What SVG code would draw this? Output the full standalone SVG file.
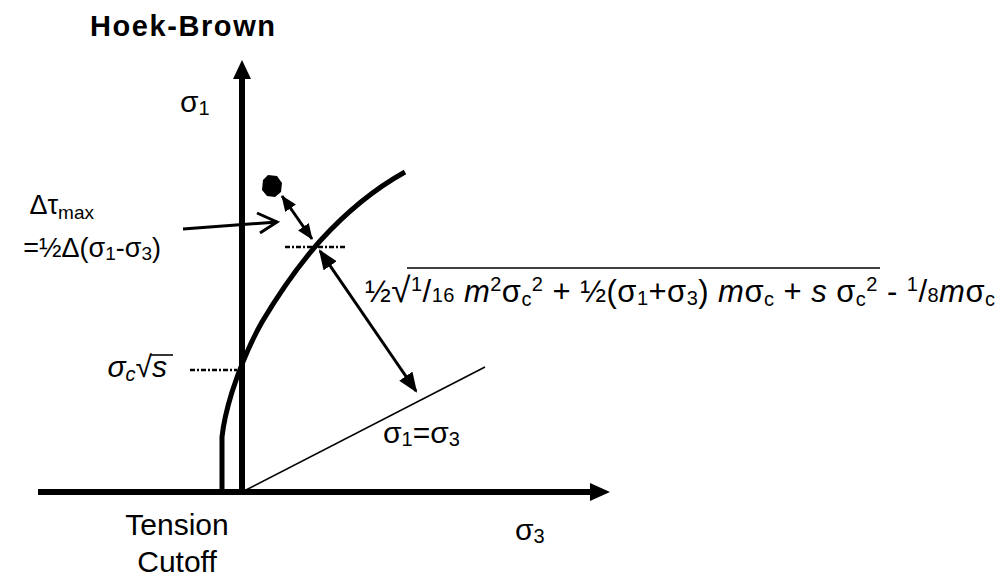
<svg xmlns="http://www.w3.org/2000/svg" width="1000" height="576" viewBox="0 0 1000 576">
<style>
text{font-family:"Liberation Sans",Arial,sans-serif;fill:#000}
.t{font-size:30px}
.s{font-size:20px}
.l{font-size:27px}
.ls{font-size:19px}
.i{font-style:italic}
.ax{stroke:#000;stroke-width:6;fill:none}
.thick{stroke:#000;stroke-width:5;fill:none;stroke-linejoin:round}
.med{stroke:#000;stroke-width:3;fill:none}
.thin{stroke:#000;stroke-width:1.6;fill:none}
.dash{stroke:#000;stroke-width:2.5;stroke-dasharray:5 2 2 2;fill:none}
</style>
<defs>
<marker id="ah" markerUnits="userSpaceOnUse" markerWidth="20" markerHeight="16" refX="18" refY="8" orient="auto-start-reverse" viewBox="0 0 20 16">
<path d="M0,0 L20,8 L0,16 Z" fill="#000"/>
</marker>
<marker id="ahs" markerUnits="userSpaceOnUse" markerWidth="16" markerHeight="13" refX="15" refY="6.5" orient="auto-start-reverse" viewBox="0 0 16 13">
<path d="M0,0 L16,6.5 L0,13 Z" fill="#000"/>
</marker>
</defs>
<g id="title"><text x="90" y="36" font-size="29" font-weight="bold" textLength="185">Hoek-Brown</text></g>
<g id="axes">
<line class="ax" x1="242" y1="492" x2="242" y2="76"/>
<polygon points="242,60 233,79 251,79"/>
<line class="ax" x1="38" y1="492" x2="592" y2="492"/>
<polygon points="610,492 590,483 590,501"/>
</g>
<g id="envelope">
<path class="thick" d="M222,492 L222,437 Q224,418 232,392 Q245,352 262,322 Q290,275 320,241 Q360,197 405,172"/>
</g>
<g id="equal-line"><line class="thin" x1="242" y1="492" x2="485" y2="367"/></g>
<g id="point"><polygon points="268,175 277,176 282,183 281,192 275,197 267,196 262,190 263,180"/></g>
<g id="connectors">
<line class="med" x1="282" y1="196" x2="312" y2="239" marker-start="url(#ahs)" marker-end="url(#ahs)"/>
<line class="med" x1="320" y1="251" x2="416" y2="391" marker-start="url(#ah)" marker-end="url(#ah)"/>
<polyline class="med" points="183,229 277,222"/>
<polyline class="med" points="257,213 277,222 260,233"/>
<line class="dash" x1="285" y1="247" x2="345" y2="247"/>
<line class="dash" x1="190" y1="370" x2="237" y2="370"/>
</g>
<g id="labels">
<text class="t" x="180" y="112">σ<tspan class="s" dy="3">1</tspan></text>
<text class="t" x="515" y="540">σ<tspan class="s" dy="3">3</tspan></text>
<text class="t" x="383" y="443">σ<tspan class="s" dy="3">1</tspan><tspan dy="-3">=σ</tspan><tspan class="s" dy="3">3</tspan></text>
<text class="t" x="177" y="535" text-anchor="middle">Tension</text>
<text class="t" x="177" y="572" text-anchor="middle">Cutoff</text>
<text class="l" x="94" y="214" text-anchor="end">Δτ<tspan class="ls" dy="5">max</tspan></text>
<text class="l" x="161" y="257" text-anchor="end">=½Δ(σ<tspan class="ls" dy="3">1</tspan><tspan dy="-3">-σ</tspan><tspan class="ls" dy="3">3</tspan><tspan dy="-3">)</tspan></text>
<text class="t" x="167" y="377" text-anchor="end"><tspan class="i">σ</tspan><tspan class="s i" dy="4">c</tspan><tspan dy="-4">√</tspan><tspan class="i">s</tspan></text>
<line class="thin" x1="150" y1="355" x2="173" y2="355"/>
<text class="t" x="365" y="302" style="font-size:31px" textLength="630"><tspan>½</tspan><tspan style="font-size:35px">√</tspan><tspan class="s" dy="-11">1</tspan><tspan dy="11">/</tspan><tspan class="s">16</tspan><tspan> </tspan><tspan class="i">m</tspan><tspan class="s" dy="-11">2</tspan><tspan dy="11">σ</tspan><tspan class="s" dy="4">c</tspan><tspan class="s" dy="-15">2</tspan><tspan dy="11"> + ½(σ</tspan><tspan class="s" dy="3">1</tspan><tspan dy="-3">+σ</tspan><tspan class="s" dy="3">3</tspan><tspan dy="-3">) </tspan><tspan class="i">m</tspan><tspan>σ</tspan><tspan class="s" dy="4">c</tspan><tspan dy="-4"> + </tspan><tspan class="i">s</tspan><tspan> σ</tspan><tspan class="s" dy="4">c</tspan><tspan class="s" dy="-15">2</tspan><tspan dy="11">  - </tspan><tspan class="s" dy="-11">1</tspan><tspan dy="11">/</tspan><tspan class="s">8</tspan><tspan class="i">m</tspan><tspan>σ</tspan><tspan class="s" dy="4">c</tspan></text>
<line class="thin" x1="407" y1="268" x2="880" y2="268"/>
</g>
</svg>
